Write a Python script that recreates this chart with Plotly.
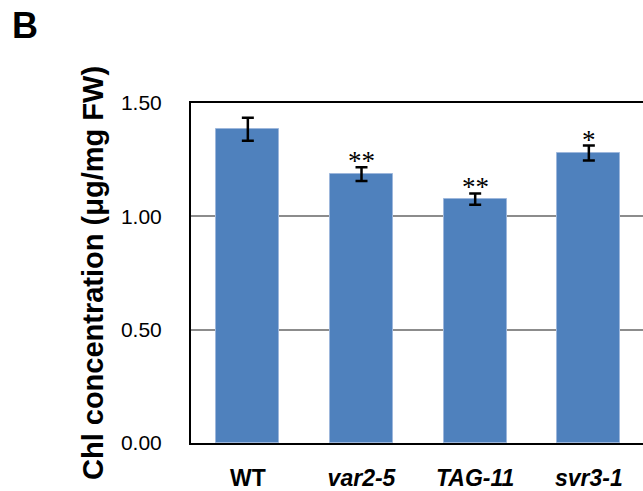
import plotly.graph_objects as go

categories = ["WT", "var2-5", "TAG-11", "svr3-1"]
tick_labels = ["<b>WT</b>", "<b><i>var2-5</i></b>", "<b><i>TAG-11</i></b>", "<b><i>svr3-1</i></b>"]
values = [1.384, 1.186, 1.076, 1.279]
errors = [0.051, 0.030, 0.025, 0.033]
stars = ["", "**", "**", "*"]
y_ticks = [0.0, 0.5, 1.0, 1.5]
y_tick_text = ["0.00", "0.50", "1.00", "1.50"]

W, H = 643, 491
L, R, T, B = 191, 0, 103, 48
plot_w = W - L - R
plot_h = H - T - B
cat_px = 113.67

fig = go.Figure()
fig.add_trace(go.Bar(
    x=list(range(len(categories))),
    y=values,
    width=0.554,
    marker=dict(color="#4F81BD", line=dict(color="#9db7dc", width=1)),
    error_y=dict(type="data", array=errors, visible=True, color="black",
                 thickness=2.5, width=6),
    showlegend=False,
))

for i, s in enumerate(stars):
    if s:
        fig.add_annotation(x=i, y=values[i] + errors[i], xref="x", yref="y",
                           text=s, showarrow=False, yanchor="bottom", yshift=-11,
                           font=dict(family="Liberation Serif, Times New Roman, serif",
                                     size=27, color="black"))

fig.add_annotation(xref="paper", yref="paper", x=-(L - 93) / plot_w, y=0.5,
                   text="<b>Chl concentration (μg/mg FW)</b>", textangle=-90,
                   showarrow=False, xanchor="center", yanchor="middle",
                   font=dict(family="Arial, Liberation Sans, sans-serif", size=29, color="black"))

fig.add_annotation(xref="paper", yref="paper", x=-(L - 10) / plot_w, y=1 + (T - 3) / plot_h,
                   text="<b>B</b>", showarrow=False, xanchor="left", yanchor="top",
                   font=dict(family="Arial, Liberation Sans, sans-serif", size=36, color="black"))

fig.update_layout(
    width=W, height=H,
    margin=dict(l=L, r=R, t=T, b=B, pad=0),
    paper_bgcolor="white", plot_bgcolor="white",
    font=dict(family="Arial, Liberation Sans, sans-serif", color="black"),
    bargap=0,
)
fig.update_xaxes(
    range=[-0.5, -0.5 + plot_w / cat_px],
    tickvals=list(range(len(categories))), ticktext=tick_labels,
    tickfont=dict(size=23), ticks="", ticklabelstandoff=13,
    showline=True, linecolor="black", linewidth=2, mirror=True,
    showgrid=False, zeroline=False,
)
fig.update_yaxes(
    range=[0, 1.5], tickvals=y_ticks, ticktext=y_tick_text,
    tickfont=dict(size=21), ticks="", ticklabelstandoff=23,
    showline=True, linecolor="black", linewidth=2, mirror=False,
    showgrid=True, gridcolor="#8c8c8c", gridwidth=1.5, zeroline=False,
)

fig.write_html("out.html", config={"displayModeBar": False},
               post_script="document.body.style.margin='0';document.body.style.overflow='hidden';")
